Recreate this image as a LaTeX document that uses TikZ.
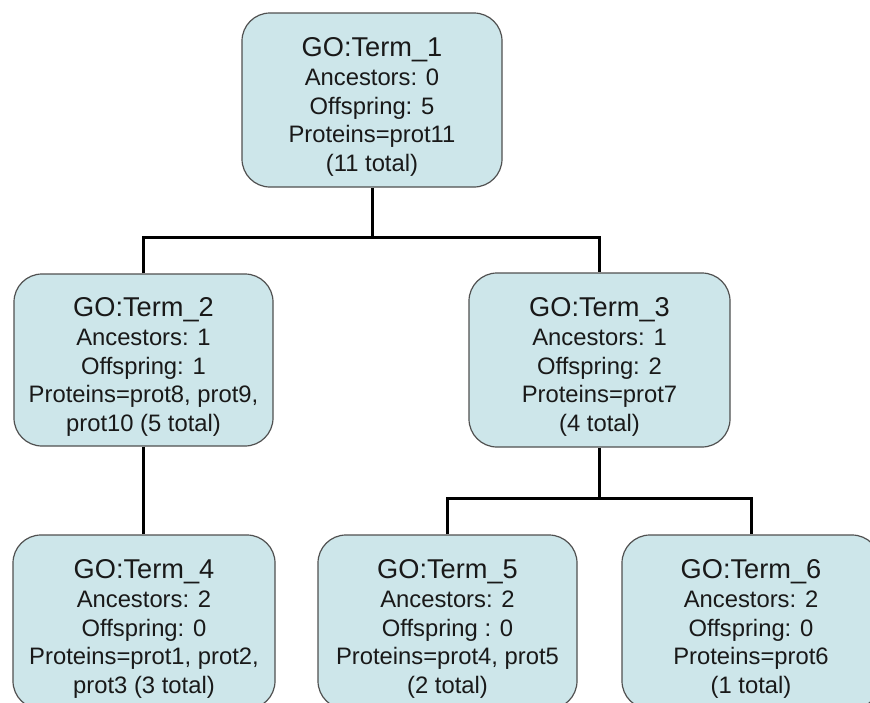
\documentclass[tikz,border=0pt]{standalone}
\usepackage{fontspec}
\setmainfont{Liberation Sans}
\definecolor{boxfill}{RGB}{205,230,234}
\definecolor{boxline}{RGB}{80,80,80}
\newcommand{\bodyf}{\fontsize{23.8}{28.5}\selectfont}
\newcommand{\titlef}{\fontsize{27.2}{30}\selectfont\rule{0pt}{32pt}}
\begin{document}
\begin{tikzpicture}[x=1pt,y=-1pt,
  termbox/.style={draw=boxline, line width=1.2pt, fill=boxfill, rounded corners=28pt,
    minimum width=260pt, minimum height=174pt, inner sep=0pt, align=center, font=\bodyf,
    text=black!90},
  link/.style={line width=3pt, black}]
\useasboundingbox (0,0) rectangle (870,702);
\node[termbox] (b1) at (372,100) {{\titlef GO:Term\_1}\\[1pt] Ancestors: 0\\ Offspring: 5\\ Proteins=prot11\\ (11 total)};
\node[termbox, minimum width=259pt, minimum height=172pt] (b2) at (143.5,360) {{\titlef GO:Term\_2}\\[1pt] Ancestors: 1\\ Offspring: 1\\ Proteins=prot8, prot9,\\ prot10 (5 total)};
\node[termbox, minimum width=261pt] (b3) at (599.5,360) {{\titlef GO:Term\_3}\\[1pt] Ancestors: 1\\ Offspring: 2\\ Proteins=prot7\\ (4 total)};
\node[termbox, minimum width=262pt] (b4) at (144,622) {{\titlef GO:Term\_4}\\[1pt] Ancestors: 2\\ Offspring: 0\\ Proteins=prot1, prot2,\\ prot3 (3 total)};
\node[termbox, minimum width=259pt] (b5) at (447.5,622) {{\titlef GO:Term\_5}\\[1pt] Ancestors: 2\\ Offspring : 0\\ Proteins=prot4, prot5\\ (2 total)};
\node[termbox, minimum width=258pt] (b6) at (751,622) {{\titlef GO:Term\_6}\\[1pt] Ancestors: 2\\ Offspring: 0\\ Proteins=prot6\\ (1 total)};
\coordinate (j1) at (372,237);
\coordinate (j2) at (599.5,498);
\draw[link] (b1.south) -- (j1);
\draw[link] (b2.north) |- (j1) -| (b3.north);
\draw[link] (b2.south) -- (b2.south |- b4.north);
\draw[link] (b3.south) -- (j2);
\draw[link] (b5.north) |- (j2) -| (b6.north);
\end{tikzpicture}
\end{document}
